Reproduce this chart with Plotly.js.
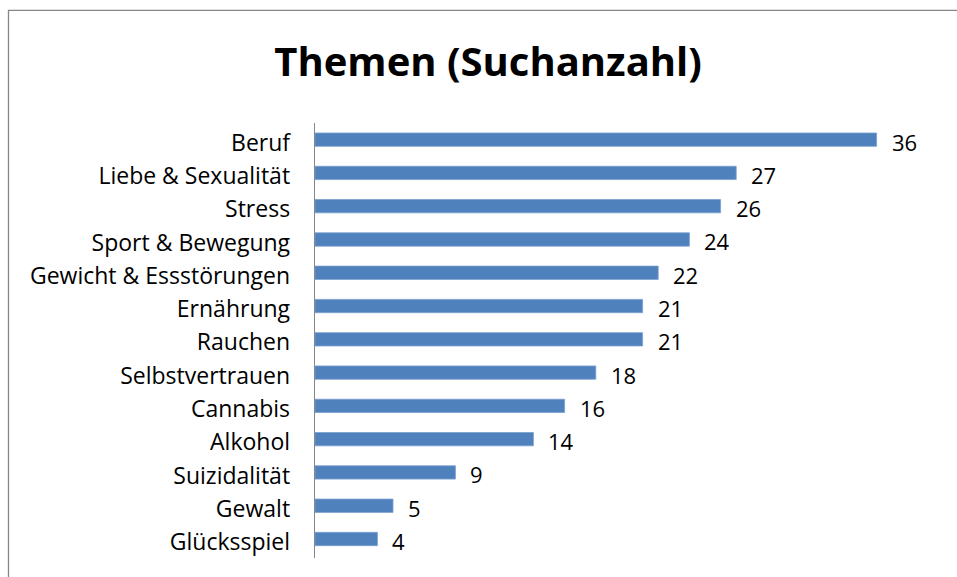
<!DOCTYPE html>
<html>
<head>
<meta charset="utf-8">
<script src="https://cdn.plot.ly/plotly-3.0.1.min.js"></script>
<style>html,body{margin:0;padding:0;background:#fff;}#chart{width:957px;height:577px;}</style>
</head>
<body>
<div id="chart"></div>
<script>
const categories = ["Beruf","Liebe & Sexualität","Stress","Sport & Bewegung","Gewicht & Essstörungen","Ernährung","Rauchen","Selbstvertrauen","Cannabis","Alkohol","Suizidalität","Gewalt","Glücksspiel"];
const values = [36,27,26,24,22,21,21,18,16,14,9,5,4];
const chartTitle = "Themen (Suchanzahl)";

const FONT = "Open Sans, Liberation Sans, sans-serif";

const trace = {
  type: "bar",
  orientation: "h",
  x: values,
  y: categories,
  width: 0.4,
  marker: {color: "#4F81BD", line: {color: "#7A9FD0", width: 0.8}},
  hoverinfo: "none"
};

const annotations = values.map((v, i) => ({
  x: v, y: categories[i], xref: "x", yref: "y",
  text: String(v), showarrow: false, xanchor: "left", yanchor: "middle",
  xshift: 13, yshift: -2, font: {family: FONT, size: 22, color: "#000"}
}));

const layout = {
  width: 957, height: 577,
  margin: {l: 315, r: 18, t: 123, b: 19},
  paper_bgcolor: "#fff", plot_bgcolor: "#fff",
  showlegend: false,
  title: {text: "<b>" + chartTitle + "</b>", x: 0.51, xref: "container", xanchor: "center", y: 0.893, yanchor: "middle",
          font: {family: FONT, size: 40, color: "#000"}},
  xaxis: {range: [0, 40], showgrid: false, zeroline: false, showticklabels: false, showline: false, ticks: "", fixedrange: true},
  yaxis: {autorange: "reversed", range: [12.5, -0.5], showgrid: false, zeroline: false,
          showline: true, linecolor: "#868686", linewidth: 1.3, ticks: "",
          ticklabelstandoff: 19, ticklabelshift: -3,
          tickfont: {family: FONT, size: 23, color: "#000"}, fixedrange: true},
  annotations: annotations,
  shapes: [{type: "rect", xref: "paper", yref: "paper", x0: -0.4912, x1: 1.2, y0: -0.3, y1: 1.259,
            line: {color: "#868686", width: 1.3}, fillcolor: "rgba(0,0,0,0)", layer: "below"}]
};

Plotly.newPlot("chart", [trace], layout, {displayModeBar: false, staticPlot: true});
</script>
</body>
</html>
